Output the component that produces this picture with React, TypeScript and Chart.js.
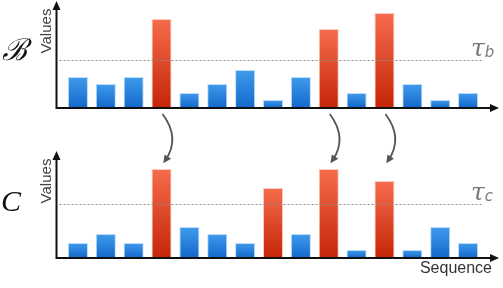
import React, { useEffect, useRef } from "react";
import { Chart, registerables } from "chart.js";

Chart.register(...registerables);

const SEQUENCE = ["1", "2", "3", "4", "5", "6", "7", "8", "9", "10", "11", "12", "13", "14", "15"];
const VALUES_B = [31, 24, 31, 89, 15, 24, 38, 8, 31, 79, 15, 95, 24, 8, 15];
const VALUES_C = [15, 24, 15, 89, 31, 24, 15, 70, 24, 89, 8, 77, 8, 31, 15];
const TAU_B = 48;
const TAU_C = 54;
const PANEL_B_LABEL = "ℬ";
const PANEL_C_LABEL = "C";
const Y_TITLE = "Values";
const X_TITLE = "Sequence";

const BLUE_TOP = "#3f9bec";
const BLUE_BOT = "#1368cb";
const RED_TOP = "#f56c4c";
const RED_BOT = "#c52508";

function makeFill(values: number[], tau: number, axisId: string) {
  return (ctx: any) => {
    const chart = ctx.chart;
    const hot = values[ctx.dataIndex] > tau;
    const sc = chart.scales && chart.scales[axisId];
    if (!sc || !chart.chartArea) return hot ? RED_BOT : BLUE_BOT;
    const top = sc.getPixelForValue(values[ctx.dataIndex]);
    const base = sc.getPixelForValue(0);
    const g = chart.ctx.createLinearGradient(0, top, 0, base);
    g.addColorStop(0, hot ? RED_TOP : BLUE_TOP);
    g.addColorStop(1, hot ? RED_BOT : BLUE_BOT);
    return g;
  };
}

function makeBorder(values: number[], tau: number) {
  return (ctx: any) => (values[ctx.dataIndex] > tau ? "rgba(250,160,135,0.55)" : "rgba(130,190,245,0.55)");
}

const decorPlugin = {
  id: "decor",
  afterDraw(chart: any) {
    const ctx: CanvasRenderingContext2D = chart.ctx;
    const xs = chart.scales.x;
    const yB = chart.scales.yB;
    const yC = chart.scales.yC;
    const axisX = xs.left - 7.5;
    const rightEnd = xs.right + 17;

    const drawPanel = (ys: any, tau: number, label: string, sub: string, bigLabel: string, bigFont: string, bigX: number, bigY: number) => {
      const base = ys.getPixelForValue(0);
      const tauY = Math.round(ys.getPixelForValue(tau)) + 0.5;
      ctx.save();
      ctx.strokeStyle = "#8a8a8a";
      ctx.lineWidth = 1;
      ctx.setLineDash([2, 2]);
      ctx.beginPath();
      ctx.moveTo(axisX + 3, tauY);
      ctx.lineTo(xs.right + 1, tauY);
      ctx.stroke();
      ctx.restore();
      const topY = base - 107;
      ctx.save();
      ctx.strokeStyle = "#111";
      ctx.fillStyle = "#111";
      ctx.lineWidth = 2;
      ctx.beginPath();
      ctx.moveTo(axisX, base);
      ctx.lineTo(axisX, topY + 7);
      ctx.moveTo(axisX - 1, base);
      ctx.lineTo(rightEnd - 8, base);
      ctx.stroke();
      ctx.beginPath();
      ctx.moveTo(axisX, topY);
      ctx.lineTo(axisX - 4, topY + 9);
      ctx.lineTo(axisX + 4, topY + 9);
      ctx.closePath();
      ctx.fill();
      ctx.beginPath();
      ctx.moveTo(rightEnd, base);
      ctx.lineTo(rightEnd - 9, base - 4);
      ctx.lineTo(rightEnd - 9, base + 4);
      ctx.closePath();
      ctx.fill();
      ctx.restore();
      // y title
      ctx.save();
      ctx.font = "15px 'Liberation Sans', Arial, sans-serif";
      ctx.fillStyle = "#444";
      ctx.textAlign = "left";
      ctx.textBaseline = "alphabetic";
      const tw = ctx.measureText(Y_TITLE).width;
      ctx.translate(51, topY + 30);
      ctx.rotate(-Math.PI / 2);
      ctx.fillText(Y_TITLE, -tw / 2, 0);
      ctx.restore();
      // threshold label
      ctx.save();
      ctx.fillStyle = "#7a7a7a";
      ctx.textBaseline = "alphabetic";
      ctx.textAlign = "left";
      ctx.font = "italic 25px 'DejaVu Serif', serif";
      ctx.fillText(label, 471, tauY - 5);
      const w = ctx.measureText(label).width;
      ctx.font = "italic 15px 'DejaVu Sans', sans-serif";
      ctx.fillText(sub, 471 + w, tauY - 4);
      ctx.restore();
      // panel letter
      ctx.save();
      ctx.fillStyle = "#111";
      ctx.font = bigFont;
      ctx.textAlign = "center";
      ctx.textBaseline = "middle";
      ctx.fillText(bigLabel, bigX, bigY);
      ctx.restore();
    };

    drawPanel(yB, TAU_B, "τ", "b", PANEL_B_LABEL, "italic 30px 'DejaVu Serif', serif", 14, 52);
    drawPanel(yC, TAU_C, "τ", "c", PANEL_C_LABEL, "italic 30px 'Liberation Serif', serif", 11, 203);

    ctx.save();
    ctx.font = "16px 'Liberation Sans', Arial, sans-serif";
    ctx.fillStyle = "#333";
    ctx.textAlign = "right";
    ctx.textBaseline = "alphabetic";
    ctx.fillText(X_TITLE, 492, 273);
    ctx.restore();

    // curved arrows from top-panel outliers down to the bottom panel
    const baseB = yB.getPixelForValue(0);
    ctx.save();
    ctx.strokeStyle = "#555";
    ctx.fillStyle = "#555";
    ctx.lineWidth = 1.8;
    VALUES_B.forEach((v, i) => {
      if (v <= TAU_B) return;
      const cx = xs.getPixelForValue(i);
      const sx = cx + 1, sy = baseB + 6;
      const qx = cx + 19, qy = baseB + 30;
      const ex = cx + 4, ey = baseB + 52;
      ctx.beginPath();
      ctx.moveTo(sx, sy);
      ctx.quadraticCurveTo(qx, qy, ex, ey);
      ctx.stroke();
      const ang = Math.atan2(ey - qy, ex - qx);
      const tipX = ex + Math.cos(ang) * 4, tipY = ey + Math.sin(ang) * 4;
      ctx.beginPath();
      ctx.moveTo(tipX, tipY);
      ctx.lineTo(tipX - Math.cos(ang - 0.45) * 9, tipY - Math.sin(ang - 0.45) * 9);
      ctx.lineTo(tipX - Math.cos(ang + 0.45) * 9, tipY - Math.sin(ang + 0.45) * 9);
      ctx.closePath();
      ctx.fill();
    });
    ctx.restore();
  },
};

export default function App() {
  const ref = useRef<HTMLCanvasElement | null>(null);
  useEffect(() => {
    if (!ref.current) return;
    const chart = new Chart(ref.current, {
      type: "bar",
      data: {
        labels: SEQUENCE,
        datasets: [
          {
            label: "B",
            data: VALUES_B,
            yAxisID: "yB",
            grouped: false,
            backgroundColor: makeFill(VALUES_B, TAU_B, "yB"),
            borderColor: makeBorder(VALUES_B, TAU_B),
            borderWidth: 1,
            barPercentage: 0.72,
            categoryPercentage: 1,
          } as any,
          {
            label: "C",
            data: VALUES_C,
            yAxisID: "yC",
            grouped: false,
            backgroundColor: makeFill(VALUES_C, TAU_C, "yC"),
            borderColor: makeBorder(VALUES_C, TAU_C),
            borderWidth: 1,
            barPercentage: 0.72,
            categoryPercentage: 1,
          } as any,
        ],
      },
      options: {
        animation: false,
        responsive: false,
        layout: { padding: { left: 64, right: 21, top: 1, bottom: 30 } },
        plugins: { legend: { display: false }, tooltip: { enabled: false } },
        scales: {
          x: { type: "category", display: false, offset: true, grid: { display: false } },
          yB: { type: "linear", display: false, min: -150, max: 107 },
          yC: { type: "linear", display: false, min: 0, max: 257 },
        },
      },
      plugins: [decorPlugin],
    });
    return () => chart.destroy();
  }, []);
  return (
    <div style={{ position: "absolute", left: 0, top: 0, width: 503, height: 288, background: "#fff" }}>
      <canvas ref={ref} width={503} height={288} style={{ display: "block" }} />
    </div>
  );
}
